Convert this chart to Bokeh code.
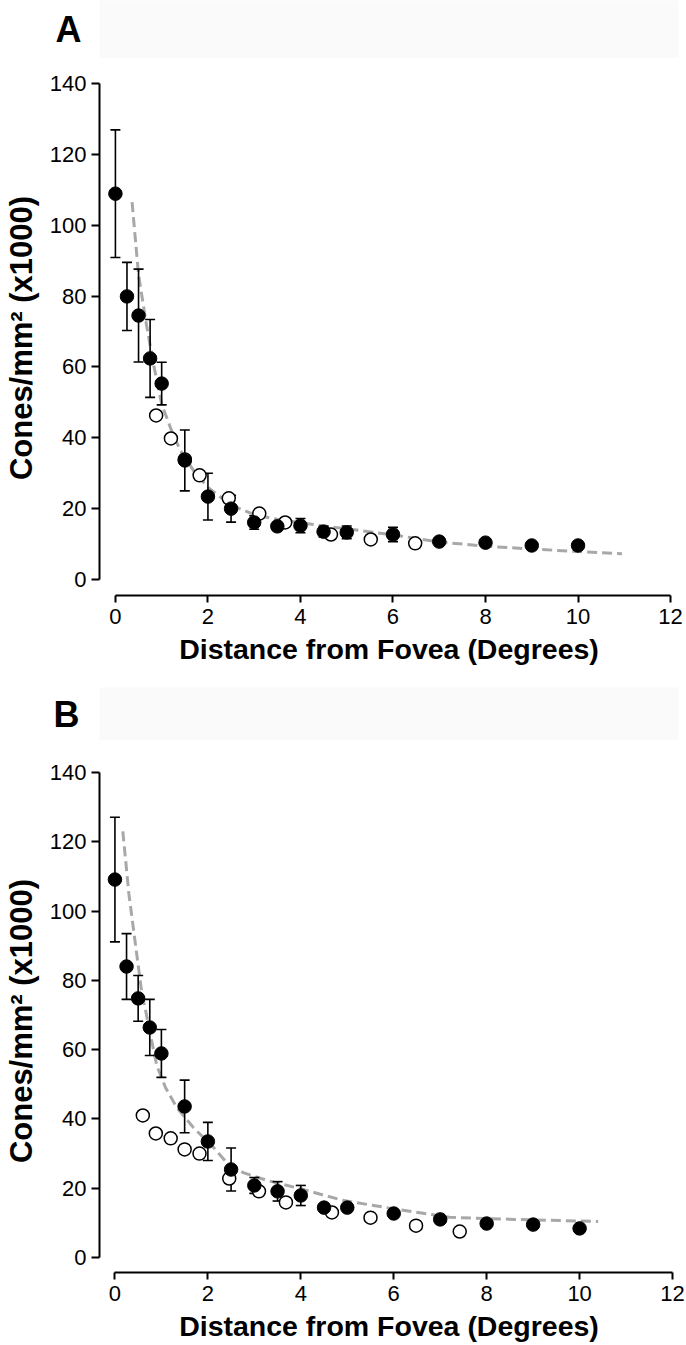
from bokeh.plotting import figure
from bokeh.layouts import column
from bokeh.models import Range1d, FixedTicker
from bokeh.embed import file_html
from bokeh.resources import INLINE

# ---------------- Panel A data ----------------
a_fill_x = [0, 0.25, 0.5, 0.75, 1.0, 1.5, 2.0, 2.5, 3.0, 3.5, 4.0, 4.5, 5.0, 6.0, 7.0, 8.0, 9.0, 10.0]
a_fill_y = [108.9, 79.9, 74.5, 62.4, 55.3, 33.6, 23.4, 20.0, 16.1, 15.0, 15.2, 13.5, 13.3, 12.7, 10.7, 10.4, 9.6, 9.6]
a_fill_err = [18.0, 9.6, 13.1, 11.0, 6.0, 8.6, 6.6, 3.8, 1.9, 0.8, 2.0, 1.5, 1.8, 2.0, 0.8, 1.0, 0.5, 0.5]
a_open_x = [0.88, 1.2, 1.5, 1.82, 2.45, 3.11, 3.67, 4.66, 5.52, 6.48]
a_open_y = [46.3, 39.8, 33.9, 29.4, 22.9, 18.6, 16.1, 12.7, 11.3, 10.2]
a_fit_x = [0.36, 0.5, 0.67, 0.82, 1.0, 1.2, 1.4, 1.7, 2.0, 2.5, 3.0, 3.5, 4.0, 5.0, 6.0, 7.0, 8.0, 9.0, 10.0, 10.95]
a_fit_y = [106.5, 86, 72, 61, 49.5, 42.5, 36.5, 30.5, 26, 21, 18.3, 17, 16, 14.3, 12.6, 10.6, 9.4, 8.6, 7.9, 7.3]

# ---------------- Panel B data ----------------
b_fill_x = [0, 0.25, 0.5, 0.75, 1.0, 1.5, 2.0, 2.5, 3.0, 3.5, 4.0, 4.5, 5.0, 6.0, 7.0, 8.0, 9.0, 10.0]
b_fill_y = [109.1, 84.0, 74.8, 66.4, 58.9, 43.6, 33.5, 25.4, 20.8, 19.1, 17.9, 14.4, 14.4, 12.7, 11.0, 9.8, 9.5, 8.4]
b_fill_err = [18.0, 9.5, 6.6, 8.1, 6.9, 7.6, 5.5, 6.2, 2.3, 2.8, 2.9, 1.0, 1.0, 1.0, 0.8, 0.5, 0.5, 0.5]
b_open_x = [0.6, 0.88, 1.2, 1.5, 1.82, 2.46, 3.1, 3.68, 4.67, 5.5, 6.48, 7.42]
b_open_y = [41.0, 35.8, 34.4, 31.2, 30.0, 22.8, 19.1, 15.9, 13.0, 11.5, 9.2, 7.5]
b_fit_x = [0.17, 0.3, 0.45, 0.58, 0.66, 0.79, 0.9, 1.09, 1.33, 1.69, 2.12, 2.4, 2.76, 3.26, 3.98, 4.9, 5.98, 7.2, 8.6, 10.4]
b_fit_y = [123, 105, 89.5, 76.2, 71.3, 62.6, 55.4, 49, 43.3, 37.5, 31.8, 27.5, 24.5, 22.3, 19.9, 16.5, 14.1, 11.6, 11.0, 10.4]

x_ticks = [0, 2, 4, 6, 8, 10, 12]
y_ticks = [0, 20, 40, 60, 80, 100, 120, 140]
x_title = "Distance from Fovea (Degrees)"
y_title = "Cones/mm\u00b2 (x1000)"
panel_letters = ["A", "B"]

FONT = "Liberation Sans"
W = 686


def header(letter, height, standoff):
    """Strip above a panel: faint band, with the panel letter as its left-axis label."""
    h = figure(width=W, height=height, output_backend="svg", toolbar_location=None,
               x_range=Range1d(96, 678), y_range=Range1d(height, 0),
               x_axis_type=None,
               min_border_left=96, min_border_right=8, min_border_top=0, min_border_bottom=0)
    h.outline_line_color = None
    h.grid.visible = False
    h.background_fill_color = "#fafafa"
    h.border_fill_color = "white"
    ax = h.yaxis[0]
    ax.ticker = FixedTicker(ticks=[])
    ax.axis_line_color = None
    ax.major_tick_line_color = None
    ax.minor_tick_line_color = None
    ax.major_tick_out = 0
    ax.major_tick_in = 0
    ax.minor_tick_out = 0
    ax.major_label_standoff = 0
    ax.axis_label = letter
    ax.axis_label_orientation = "horizontal"
    ax.axis_label_text_font = FONT
    ax.axis_label_text_font_size = "36px"
    ax.axis_label_text_font_style = "bold"
    ax.axis_label_text_color = "black"
    ax.axis_label_standoff = standoff
    return h


def panel(fill_x, fill_y, fill_err, open_x, open_y, fit_x, fit_y,
          xr, yr, height, b_top, b_bottom):
    p = figure(width=W, height=height, output_backend="svg", toolbar_location=None,
               x_range=Range1d(*xr), y_range=Range1d(*yr),
               min_border_left=96, min_border_right=8,
               min_border_top=b_top, min_border_bottom=b_bottom)
    p.outline_line_color = None
    p.grid.visible = False
    p.background_fill_color = "white"
    p.border_fill_color = "white"

    for ax, ticks, bounds, tick_out, std in ((p.xaxis[0], x_ticks, (0, 12), 7, 6),
                                            (p.yaxis[0], y_ticks, (0, 140), 8, 5)):
        ax.ticker = FixedTicker(ticks=ticks)
        ax.bounds = bounds
        ax.axis_line_width = 2
        ax.axis_line_color = "black"
        ax.major_tick_line_width = 2
        ax.major_tick_line_color = "black"
        ax.major_tick_in = 0
        ax.major_tick_out = tick_out
        ax.minor_tick_line_color = None
        ax.major_label_text_font = FONT
        ax.major_label_text_font_size = "22px"
        ax.major_label_text_color = "black"
        ax.major_label_standoff = std
        ax.axis_label_text_font = FONT
        ax.axis_label_text_font_style = "bold"
        ax.axis_label_text_color = "black"
    p.xaxis.axis_label = x_title
    p.xaxis.axis_label_text_font_size = "28.5px"
    p.xaxis.axis_label_standoff = 6
    p.yaxis.axis_label = y_title
    p.yaxis.axis_label_text_font_size = "31px"
    p.yaxis.axis_label_standoff = 8

    # fitted dashed curve
    p.line(fit_x, fit_y, line_color="#a8a8a8", line_width=3, line_dash="10 5")

    # error bars
    lo = [v - e for v, e in zip(fill_y, fill_err)]
    hi = [v + e for v, e in zip(fill_y, fill_err)]
    p.segment(x0=fill_x, y0=lo, x1=fill_x, y1=hi, line_color="black", line_width=1.6)
    p.scatter(fill_x, hi, marker="dash", size=10, line_color="black", line_width=1.6)
    p.scatter(fill_x, lo, marker="dash", size=10, line_color="black", line_width=1.6)

    # open circles
    p.scatter(open_x, open_y, size=13, fill_color="white", line_color="black", line_width=1.5)
    # filled circles
    p.scatter(fill_x, fill_y, size=13.5, fill_color="black", line_color="black", line_width=1)
    return p


ha = header(panel_letters[0], 58, 18)
pa = panel(a_fill_x, a_fill_y, a_fill_err, a_open_x, a_open_y, a_fit_x, a_fit_y,
           (-0.344, 12.172), (-4.516, 140.84), 629, 22, 92)
hb = header(panel_letters[1], 53, 20)
pb = panel(b_fill_x, b_fill_y, b_fill_err, b_open_x, b_open_y, b_fit_x, b_fit_y,
           (-0.332, 12.128), (-4.33, 140.87), 605, 29, 73)

layout = column(ha, pa, hb, pb, spacing=0)
open("out.html", "w").write(file_html(layout, INLINE))
